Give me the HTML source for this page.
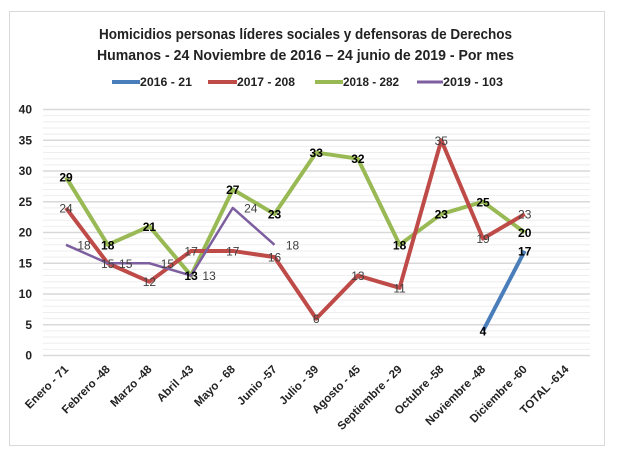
<!DOCTYPE html>
<html><head><meta charset="utf-8"><style>
html,body{margin:0;padding:0;background:#fff;}
svg{display:block;font-family:"Liberation Sans",sans-serif;}
</style></head><body>
<svg width="623" height="467" viewBox="0 0 623 467">
<rect x="9.5" y="11.5" width="595" height="434" fill="#fff" stroke="#d9d9d9"/>
<text x="99" y="39" textLength="413" lengthAdjust="spacingAndGlyphs" font-size="14.5" font-weight="bold" fill="#222">Homicidios personas líderes sociales y defensoras de Derechos</text>
<text x="97" y="60" textLength="417" lengthAdjust="spacingAndGlyphs" font-size="14.5" font-weight="bold" fill="#222">Humanos - 24 Noviembre de 2016 – 24 junio de 2019 - Por mes</text>
<g font-size="11.5" font-weight="bold" fill="#222">
<line x1="112" y1="82" x2="140" y2="82" stroke="#4a7ebb" stroke-width="4"/><text x="140" y="86" textLength="52" lengthAdjust="spacingAndGlyphs">2016 - 21</text>
<line x1="208" y1="82" x2="237" y2="82" stroke="#be4b48" stroke-width="4"/><text x="237" y="86" textLength="58" lengthAdjust="spacingAndGlyphs">2017 - 208</text>
<line x1="315" y1="82" x2="343" y2="82" stroke="#98b954" stroke-width="4"/><text x="343" y="86" textLength="56" lengthAdjust="spacingAndGlyphs">2018 - 282</text>
<line x1="417" y1="82" x2="443" y2="82" stroke="#7d5fa0" stroke-width="3"/><text x="443" y="86" textLength="60" lengthAdjust="spacingAndGlyphs">2019 - 103</text>
</g>
<g id="grid"></g>
<g id="ylab" font-size="12" font-weight="bold" fill="#222" text-anchor="end"></g>
<g id="series"></g>
<g id="xlab" font-size="11.5" font-weight="bold" fill="#222"></g>
<script>
const ns="http://www.w3.org/2000/svg";
function el(p,t,a,txt){const e=document.createElementNS(ns,t);for(const k in a)e.setAttribute(k,a[k]);if(txt!==undefined)e.textContent=txt;document.getElementById(p).appendChild(e);return e;}
const Y=v=>355.5-6.15*v, X=i=>66+41.7*i;
for(let v=0;v<=40;v++){const y=Y(v);el("grid","line",{x1:43,x2:590,y1:y,y2:y,stroke:v%5?"#eeeeee":"#d9d9d9","stroke-width":v%5?1:1.5});}
for(let v=0;v<=40;v+=5)el("ylab","text",{x:32,y:Y(v)+4},v);
const S=[
{c:"#98b954",w:4,d:[29,18,21,13,27,23,33,32,18,23,25,20],s:0,b:1,dx:0},
{c:"#be4b48",w:4,d:[24,15,12,17,17,16,6,13,11,35,19,23],s:0,b:0,dx:0},
{c:"#7d5fa0",w:2.5,d:[18,15,15,13,24,18],s:0,b:0,dx:18},
{c:"#4a7ebb",w:4,d:[4,17],s:10,b:1,dx:0}];
for(const s of S){const pts=s.d.map((v,i)=>X(i+s.s)+","+Y(v)).join(" ");
el("series","polyline",{points:pts,fill:"none",stroke:s.c,"stroke-width":s.w,"stroke-linejoin":"round"});}
for(const s of S){s.d.forEach((v,i)=>{el("series","text",{x:X(i+s.s)+s.dx,y:Y(v)+4.5,"text-anchor":"middle","font-size":12,"font-weight":s.b?"bold":"normal",fill:s.b?"#000":"#404040"},v);});}
const L=["Enero - 71","Febrero -48","Marzo -48","Abril -43","Mayo - 68","Junio -57","Julio - 39","Agosto - 45","Septiembre - 29","Octubre -58","Noviembre -48","Diciembre -60","TOTAL -614"];
L.forEach((t,i)=>{const x=X(i)+3,y=370;el("xlab","text",{x:x,y:y,"text-anchor":"end",transform:`rotate(-45 ${x} ${y})`},t);});
</script>
</svg>
</body></html>
